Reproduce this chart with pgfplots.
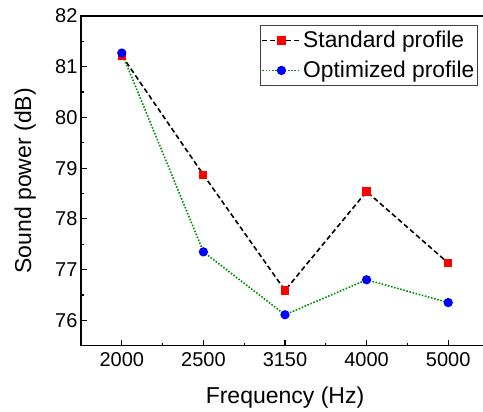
\documentclass[border=0pt]{standalone}
\usepackage{fontspec}
\setmainfont{Liberation Sans}
\usepackage{pgfplots}
\pgfplotsset{compat=1.18}

\definecolor{optgreen}{RGB}{0,145,0}

\begin{document}
\begin{tikzpicture}
\useasboundingbox (-81bp,-66.3bp) rectangle (402bp,345.7bp);
\begin{axis}[
    scale only axis,
    width=408bp, height=329.7bp,
    xmin=-0.5, xmax=4.5,
    ymin=75.5, ymax=82,
    xtick={0,1,2,3,4},
    xticklabels={2000,2500,3150,4000,5000},
    minor xtick={0.5,1.5,2.5,3.5},
    ytick={76,77,78,79,80,81,82},
    minor ytick={75.5,76.5,77.5,78.5,79.5,80.5,81.5},
    tick align=inside,
    xtick pos=bottom, ytick pos=left,
    major tick length=6bp, minor tick length=3bp,
    every tick/.style={black, line width=1.2bp},
    axis line style={line width=1.2bp},
    /pgf/number format/assume math mode=true,
    tick label style={font=\fontsize{20bp}{24bp}\selectfont},
    xticklabel style={yshift=-3bp},
    xlabel={Frequency (Hz)},
    ylabel={Sound power (dB)},
    label style={font=\fontsize{23bp}{27bp}\selectfont},
    xlabel style={at={(axis description cs:0.5,-0.174)}, anchor=base},
    ylabel style={at={(axis description cs:-0.137,0.5)}, anchor=center},
    legend style={at={(0.9723,0.9727)}, anchor=north east,
        draw=black!75, line width=0.8bp,
        font=\fontsize{22.8bp}{26bp}\selectfont,
        inner xsep=1bp, inner ysep=4bp,
        nodes={inner sep=2bp}, row sep=8bp},
    legend cell align=left,
    legend image code/.code={
        \draw[mark repeat=2, mark phase=2] plot coordinates {(0bp,0bp) (19bp,0bp) (38bp,0bp)};
    },
]
% Standard profile
\addplot[black, line width=1.6bp, dash pattern=on 5bp off 3bp,
    mark=square*, mark size=3.3bp,
    mark options={solid, draw=red, fill=red}] coordinates {
    (0, 81.22)
    (1, 78.87)
    (2, 76.59)
    (3, 78.54)
    (4, 77.13)
};
\addlegendentry{Standard profile}

% Optimized profile
\addplot[optgreen, line width=1.6bp, dash pattern=on 1.6bp off 1.6bp,
    mark=*, mark size=3.8bp,
    mark options={solid, draw=blue, fill=blue}] coordinates {
    (0, 81.27)
    (1, 77.35)
    (2, 76.11)
    (3, 76.80)
    (4, 76.35)
};
\addlegendentry{Optimized profile}
\end{axis}
\end{tikzpicture}
\end{document}
